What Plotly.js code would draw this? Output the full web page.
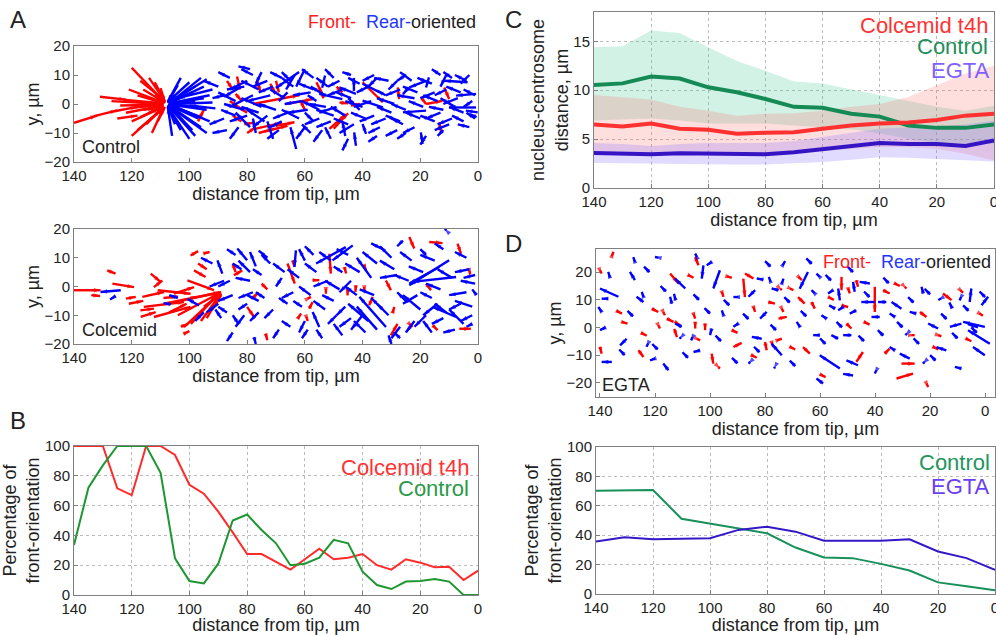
<!DOCTYPE html>
<html><head><meta charset="utf-8">
<script src="https://cdn.plot.ly/plotly-3.0.1.min.js"></script>
<style>html,body{margin:0;padding:0;background:#fff}#plot{width:996px;height:635px}</style>
</head><body><div id="plot"></div>
<script>
// ---------- DATA ----------
// Quiver arrows: [xTail, yTail, xHead, yHead] (distance from tip, µm ; y, µm)
const controlFront = [
[140,-6.5,132,-4],[133,-4.2,125,-2.2],[126,-2.5,118,-1],[119,-1.2,109,-0.3],[131,2.5,122,1.5],[123,1.5,109,0.2],
[120,12.5,109,1],[117,8,109,1.5],[114,9,108.5,1],[112,7.5,108.5,0.8],[116,5,109,0.8],[121,5,109,0.5],[118,3,109,0.3],
[127,1,109,0],[124,-0.5,109,-0.2],[122,-3,109,-0.5],[117,-4.5,109,-0.8],[120,-6,109,-1],[115,-7,109,-1],[118,-9,109,-1.5],
[120,-11,110,-2],[113,-10,109,-1.5],[111,-6,108.5,-1],[114,-3,109,-0.5],[112,3,108.5,0.3],[110,5.5,108.5,0.5],[125,-5,118,-4],[116,-2,112,-1.5],
[97,-6,95,-2],[83.5,9.5,82.5,5],[84,3.5,82,1.2],[86,1,83,-1],[85,-4,82,-6],[83,-1,80,-3],[81,-7,78,-6.5],[76.5,8,75.3,4],[72,7,70.2,3.5],
[76,-10,70.5,-8.5],[70,8,69,4],[78,0,62,3],[77,-8.5,68,-6.5],[74,-9.5,66,-7.5],[61.5,1,60,-2],[55,5,53.5,2],[56,7.5,54,3.5],[70,-7.5,63.6,-6.3],
[66.5,0,57.3,1.7],[51.5,-8.6,45.8,-3.5],[48,0.5,45,0.2],[44,-0.5,41,0],[40,7.5,33,0.6],[27.8,5.7,27.3,1.7],[18,0,12.3,1.1],[13.4,-6.3,12.8,-9.8],
[11.7,5.7,10,1.7],[49,6,47,4],[50,-8.5,45,-3.2],[19.5,2,18,0],[87,8,85,5],[80,-10,77,-8]
];
const controlRear = [
[94,8.5,107,0.5],[95,6,107,0.4],[93,3,107,0.2],[92,0.5,107,0],[94,-2,107,-0.2],[96,-4.5,107,-0.4],[94,-10,107,-0.8],[100,-12,107.5,-1],
[103,-9,107.5,-0.8],[105,-7,107.5,-0.6],[101,-3,107.5,-0.3],[104,6.5,107.5,0.6],[103,9,107.5,0.8],[98,1,107,0.1],[97,-1,107,-0.1],[99,4,107,0.3],
[102,-6,107.5,-0.5],[96,-8,107,-0.6],[105,3,107.5,0.3],[100,7.5,107.5,0.7],[106,-11,107.5,-1],[91,-1.5,100,-0.5],[97,-5,107,-0.4],[99,-9,107,-0.7],
[95,2,107,0.2],[93,-6,106,-0.5],[98,6,107,0.5],[92,5,104,2],[96,9,106,1],[98,-11,107,-1],
[88,3,92,2],[82,6,88,2.5],[80,8,86,5],[78,3,86,-1],[81,-2,88,0],[79,-8,84,-3],[77,-10,78,-5],[74,-6,80,-2],[72,3,80,1],[73,8,78,6],[75,11,77,7],
[81,6,87,5],[84,-4,89,-2],[76,-3,82,-1],[70,-2,76,0],[71,-12,73,-6],[62,11,70,5.5],[63,-15.5,65,-8],[63.5,10,66.5,5],[60,12,63,6],[53,9.8,54,5.6],
[47,1.7,55,3.5],[52.7,-1,58.5,0],[42.3,3.5,48,5.7],[43,4.5,43,9],[46,-11,47,-6],[42.3,-14.4,42.9,-9.8],[38.8,-10.3,40,-6.9],[33,-1.2,40,1.2],
[32,3,35,4.6],[24,5.7,26,3.4],[18,-2.3,26,-2.9],[18,8,23.8,5.7],[19.2,-13.8,19.8,-9.8],[17,9.2,18,5.7],[3.6,7.5,11.7,8],[0.7,3.5,7.6,2.9],
[0.7,-1.2,10,-1.2],[0.1,-2.9,4.2,-2.3],[0.5,-4.5,3,-3.5],[66,4,69,1],[59,-2,66,-3],[57,5,62,7],[55,-5,60,-7],[58,-10,61,-7],[50,-4,56,-2],
[48,8,52,6],[45,-7,50,-5],[41,-2,45,2],[38,6,42,4],[36,-4,41,-6],[35,9,38,6],[30,-3,35,-1],[28,8,31,5],[26,-7,30,-5],[22,2,28,3],[20,-5,25,-3],
[15,4,20,2],[13,-3,18,-5],[11,10,13,6],[9,-5,14,-7],[7,2,12,0],[5,-6,9,-4],[3,10,6,7],[2,1,5,-1],[12,-9,14,-11],[28,-9,32,-11],[51,-12,53,-8],
[68,-6,72,-8],[65,8,68,11],[56,1,59,3],[44,10,47,11],[25,10,28,8],[52,6,56,9],
[90,6,95,8],[88,-5,93,-7],[86,9,90,11],[84,1,90,4],[83,-8,86,-12],[80,-4,86,-6],[78,10,82,12],[76,5,82,8],[75,-1,82,2],[73,-4,78,-8],[71,6,76,4],
[69,-9,73,-12],[67,2,72,5],[66,-3,71,-5],[64,6,68,9],[62,-5,68,-2],[61,1,67,0],[60,-8,63,-12],[58,4,64,3],[57,9,61,12],[55,-2,61,1],[54,-9,57,-13],
[53,3,58,6],[51,-6,56,-8],[50,9,53,12],[49,-1,55,-3],[47,5,52,3],[46,-4,51,-1],[45,-12,47,-16],[44,2,49,4],[43,-7,48,-10],[41,7,45,9],[40,-1,46,1],
[39,-5,44,-3],[37,1,43,-1],[36,10,40,8],[34,-8,38,-10],[34,4,40,7],[32,-5,37,-7],[31,8,36,9],[29,0,35,2],[27,-6,32,-4],[27,5,32,3],[25,-2,30,0],
[23,8,27,11],[22,-8,26,-10],[21,4,26,6],[19,-1,24,1],[18,-11,20,-14],[16,7,21,9],[15,-6,20,-4],[14,1,19,3],[12,-2,17,-1],[11,5,15,3],[10,-7,15,-9],
[9,9,12,11],[8,-1,13,2],[6,4,11,6],[5,-3,10,-1],[4,8,8,10],[3,-8,7,-7],[1,3,5,5],[1,-5,4,-3],[13,10,16,12],[35,-11,38,-13],[57,-6,60,-3],
[68,9,72,11],[87,-9,92,-10],[79,12,83,13],[25,-10,28,-12]
];
const colcemidFront = [
[140,-1.3,130.8,-1.3],[134,-3,131,-3.3],[128.5,5.6,125.6,4.5],[126.7,1,119.2,-0.2],[122,-4.2,118.6,-3.6],[117,-8.3,112.3,-7.7],[116.9,-10.6,111.7,-8.9],
[116.3,-3.6,108.8,-1.9],[113.4,4.5,110,1.6],[112.3,-0.2,109.4,2.1],[111,-1.3,99.6,-2.5],[108.8,-6,97.3,-3.6],[115.8,-7.1,101.9,-5.4],[112.3,-10.6,99.6,-7.1],
[105.4,-2.5,98.4,-0.2],[100.7,2.1,91.5,-1.3],[98.4,5.6,94.4,3.3],[99.6,10.8,97,12.3],[95,11.5,93,12],[97,8,94,6],[101.9,-14.1,90,-3],[99.5,-13,90.5,-3],
[96,-12,89.5,-3],[94,-11,89,-2.5],[104,-10,90,-2.5],[103,-5,89.5,-2],[99,-4,89,-2],[95,-7,89,-2.5],[92,-8,89,-3],[103,-14,100.5,-13],[102,-16.5,100,-15.5],
[84.6,3.9,81.7,5.6],[85,8,84,5],[80,-7.1,77.6,-10.6],[73.6,-16.4,73,-18.7],[78,-4,76,-2],[75,1,73,-1],[66,8,63.5,1],[64.2,9.1,63.6,6.8],[51.5,11.4,51,4.5],
[57.3,2.2,55,2.2],[59,-4.2,57.9,-3.6],[58.5,-7.7,57.3,-5.4],[52.7,-0.8,52.7,-2.5],[45.2,-0.2,45.2,-3.1],[42.3,0.4,42.5,-1.9],[39.4,-0.2,39.4,-1.9],
[37.7,-6.5,36.5,-3.6],[31.9,2.1,30.2,-1.3],[62.5,-11.2,61.3,-9.4],[59.5,-10.5,59,-12],[30.2,-17,27.9,-13],[29.6,-9.2,29,-7.1],[23.8,-13,22.7,-14.1],
[15.7,-13.5,14,-15.2],[6.5,-14.7,2.5,-14.7],[23.8,17.2,22.1,13.2],[16.9,15.5,12.3,15.1],[7.1,14.9,5.9,11.4],[3,5.6,2.7,4.2],[18,1,16.3,-1.3],
[46.3,6.8,45.7,4.5],[39.4,7.4,38.8,5.6],[121,-6,116,-5],[109,-4,104,-3.5],[107,-9,101,-6]
];
const colcemidRear = [
[123.8,-1.3,130.8,-1.9],[125.6,-3.3,127.5,-4.5],[106.5,-6.2,109,-5.8],[96.7,-6.6,100.7,-4.3],[104,-4,107,-3],[88.6,4.5,90.3,9.1],[86,2,90,0],
[85,-3,90,-5],[87,-9,90,-7],[89,-11,91,-8],[83,-13,85,-10],[80,9.1,83.4,13.2],[77,7,79,12],[82,6,85,8],[79,2,84,3],[78,-2,83,-4],[80,-6,83,-8],
[76,-9,79,-12],[77.6,-17.6,77,-20],[75,4,78,6],[74,-4,77,-2],[73,10,76,12.5],[45.8,13.7,56.1,8],[43.4,14.3,50.4,9.1],[63.1,12.6,63.6,6.8],
[60,9,62,13],[56,5,60,8],[58,-3,62,0],[61,-7,64,-5],[55,-14.1,57.3,-8.9],[60,-12,62,-16],[66,-6,69,-4],[68,3,70,0],[65,-14,68,-12],[52,2,57,0],
[50,-5,54,-3],[49,-10,52,-13],[47,5,50,7],[10,9.1,23.8,0.4],[13.4,6.8,23.8,1],[7.6,3.3,22.7,1.6],[31.9,-14.1,41.1,-3.6],[35,-15,42,-7],
[38,-12,45,-6],[40,-10,44,-15],[33,-8,37,-4],[37,3,42,10],[35,8,40,12],[30,10,34,14],[28,4,34,3],[44,2,48,-2],[42,-3,46,0],[25,-5,28,-2],
[20,-8,26,-3],[22,-12,25,-16],[18,-10,22,-14],[16,-4,20,-2],[14,-6,19,-10],[12,-11,16,-13],[7.6,-10.6,15.7,-7.1],[5,-13,10,-8],[2,-7,8,-5],
[4,-2,10,-3],[1,1,6,2],[3,6,8,5],[12,13,15,15],[18,11,20,13],[26,16,28,14],[8,-15,12,-16],[2,-13,4,-14],[0.5,-3,2,-1],[27,-18,29,-16],
[30,-20,31,-17],[47,-17,50,-13],[54,-18,56,-15],[44,-11,48,-14],[11,19.5,11.5,20],
[92,8,96,10],[90,-6,94,-9],[88,2,93,0],[84,11,87,13],[81,-10,84,-14],[79,5,83,9],[76,-5,80,-3],[72,8,75,11],[71,-8,74,-11],[69,-15,71,-18],
[67,5,71,8],[64,-2,68,-4],[62,3,66,6],[59,-15,61,-18],[57,11,60,14],[53,-8,57,-5],[51,9,55,12],[48,-1,53,2],[46,-7,49,-10],[45,11,49,13],
[41,5,46,8],[39,-16,43,-12],[36,-3,41,-1],[33,13,37,15],[31,-10,35,-6],[29,6,34,9],[27,-14,30,-18],[24,2,29,4],[23,9,27,12],[21,-3,26,-6],
[19,5,24,7],[16,-16,19,-12],[15,9,20,11],[13,-1,18,1],[11,-9,15,-6],[9,3,14,6],[6,-6,10,-8],[4,10,8,12],[2,-10,6,-12],[1,4,5,3],[85,-16,87,-19],[95,-9,98,-12]
];
const egtaFront = [
[135.7,25.8,135.1,27.4],[105.4,25.5,104.2,22.5],[114.5,19.5,111.5,15.9],[140,20.7,139.4,19.5],[121.2,6.8,118.8,5.6],[117,5.6,116.4,4.4],
[132.1,2,130,1.4],[115.7,3.2,113.3,2],[112.7,2,110.9,0.8],[118.8,0.8,118.2,-0.4],[113,-0.5,112,-3.5],[106,5,105.4,3.2],[105.4,2,105.4,-0.4],
[101.8,1.4,101.8,-1],[104.8,-4.1,103.6,-4.7],[140,-7,139.4,-9.5],[126,-8.3,124.2,-10.7],[99.4,-9.5,98.8,-13.1],[97,-14.3,96.4,-14.9],
[95.7,12.9,95.1,11.1],[93.9,18.5,92.1,18],[87.9,17.7,87.3,11],[87.3,19.5,84.2,17.7],[74.5,14.1,73.9,13.5],[84.2,7.4,83.6,5.6],[78.8,9.2,76.4,8.6],
[75.1,3.2,72.1,3.8],[73.9,6.8,73.3,5.6],[80,-5.3,79.4,-8.3],[77.6,-5.3,77,-7.1],[75.7,-4.7,73.9,-4.1],[91.5,-7.1,88.5,-5.6],[70.9,14.1,69.7,13.5],
[67.8,18.3,66.6,17.1],[63.1,9.2,61.9,6.8],[52.2,18.3,52.2,13.5],[49.8,14.1,49.2,12.3],[46.8,17.1,46.2,14.7],[40.1,14.7,40.1,5.6],[37.1,13.5,34.7,12.3],
[29.2,14.7,28.6,14.1],[15.3,12.3,12.2,9.9],[52.2,8,49.8,7.4],[23.7,5.6,21.3,3.8],[17.1,-2.8,15.9,-3.2],[26.8,-2.8,25.6,-2.8],[66.2,-7.1,63.7,-9.5],
[46.8,-12.5,44.4,-8.9],[36.5,-9.5,34.7,-7.7],[30.4,-13.1,25.6,-13.1],[32.2,-18.5,26.2,-16.7],[21.3,-20.3,20.7,-21.6],[50.4,1.4,48.6,-0.4],
[68,11,65.6,8.6],[2,5,0.8,4.2],[9,13.5,8,12.5],
[134,6,132,5],[125,-2,123,-3],[108,19,106,18],[92,-1,90,-2],[85,-10,83,-11],[71,-7,69,-8],[57,11,55,10],[44,2,42,1],[33,16,31,15],[19,-7,17,-8],
[7,-4,5,-5],[60,-17,58,-18]
];
const egtaRear = [
[127.3,23.7,127.9,25.5],[118.8,25.3,120,25.5],[104.8,25.5,105.4,26.8],[99.4,23.7,101.2,22.5],[102.4,22.5,103,17.7],[96.4,20.7,98.8,14.1],
[136.4,18.1,137,20.1],[127.3,17.1,129.1,20.1],[109,14.1,112.7,17.7],[133.3,11.1,140,14.1],[137,10.4,139.4,10.4],[124.2,9.2,126.7,11.1],
[124.2,11.1,124.8,12.9],[113.9,8.6,114.5,11.1],[112.5,9.8,113.1,12.2],[110.3,0.2,112.7,1.4],[99.4,-0.4,100,-2.8],[110.5,-3.5,111.1,-4.1],
[106.3,-3.5,106.9,-4.7],[139.4,5.6,140.6,7.4],[135.7,-12.5,139.4,-12.5],[130.3,-4.1,132.7,-6.5],[122.5,-5.8,123.1,-7],[120,-11.3,121.8,-11.9],
[115.1,-15.5,117,-13.1],[103.6,-8.3,106,-8.9],[95.1,4.4,95.7,6.2],[89.7,1.4,91.5,0.2],[89.7,11,91.5,11],[83.6,13.5,86,11.1],[80.6,17.3,83,17.7],
[78,16.5,78.6,18.3],[73.9,15.9,73.3,17.7],[73.6,22.5,72.7,24],[75.1,13.5,77.6,14.1],[79.4,5.6,81.8,3.2],[81.2,-4.1,84.8,-3.4],[73.9,-10.1,77.6,-5.9],
[85.4,-12.5,86,-13.1],[76.4,-14.3,76.7,-14.9],[67.3,0.2,68.5,2],[64.4,20.1,67.4,14],[60.1,18.3,61.3,19.5],[61.9,12.3,63.1,13.5],[57.7,3.2,59.5,4.4],
[55.3,13.5,57.1,12.3],[52.8,9.8,53.4,14.1],[47.4,12.9,48,16.5],[41.9,15.9,45.6,16.5],[40.1,9.2,45,9.2],[35.9,9.2,38.9,9.2],[30.4,6.8,34,9.2],
[22.5,12.3,23.1,14.7],[5.6,9.2,5,14.1],[1.3,8,-1.1,11.1],[51.6,7.4,53.4,6.2],[54.5,6.8,56.7,8],[46.8,6.2,49.2,5],[38.3,3.8,41.3,3.8],
[32.8,3.8,34.7,5],[25,5,27.4,5.6],[17.1,-0.4,20.7,1.4],[8.6,1.4,12.8,0.2],[0.1,0.2,8,2],[-1.7,-5.9,6.2,-1],[28.4,-2.2,29,-2.8],
[60.1,-2.8,62.5,-2.8],[53.4,-4.1,55.9,-2.8],[48.6,-2.8,51.6,-2.8],[52.8,-14.9,60.1,-10.1],[48,-17.4,51.6,-16.8],[46.2,-13.7,50.4,-11.9],
[39.5,-15.5,40.1,-16.7],[32.8,-8.3,34.7,-7.1],[27.4,-11.3,31,-9.5],[22,-12.5,22.6,-13.1],[14.1,-8.3,17.7,-7.1],[8.6,-14.9,11,-14.3],
[0.1,-10.1,4.4,-7.1],[58.9,-20.3,61.3,-18.5],[16,10.5,17,9.9],[8.7,11,9.3,9.8],[12,7,13,9],[2.6,0,6.2,1.2],
[138,0,140,-1],[131,-10,133,-8],[128,4,130,6],[122,20,124,22],[119,-8,121,-6],[116,13,118,15],[108,-11,110,-9],[104,10,106,12],[100,5,102,7],
[96,-5,98,-3],[93,8,95,10],[90,-13,92,-11],[86,3,88,5],[82,-9,84,-7],[78,22,80,24],[76,-1,78,1],[71,9,73,11],[69,-14,71,-12],[65,4,67,6],
[63,23,65,25],[58,-6,60,-4],[56,17,58,19],[52,0,54,2],[48,20,50,22],[44,-5,46,-3],[42,11,44,13],[37,-3,39,-1],[35,16,37,18],[30,0,32,2],
[26,9,28,11],[24,-6,26,-4],[20,12,22,14],[18,-12,20,-10],[14,3,16,5],[10,-4,12,-2],[6,6,8,8],[3,-2,5,0],[0,11,2,13]
];

// Panel B: percentage of front-orientation
const distB = [140,135,130,125,120,115,110,105,100,95,90,85,80,75,70,65,60,55,50,45,40,35,30,25,20,15,10,5,0];
const colcemidPctB = [100,100,100,71.6,67,100,100,94,74,68,56,42,27.5,27.5,22,17,24,31,24,25,27.5,20,17,24,21.7,18.6,19,10,16.3];
const controlPctB = [33.6,72,87,100,100,100,82,24.6,9.4,7.8,21,50,54,43.6,34.7,20,21,25,37,34.7,15.6,6.7,4,9,9.4,10.7,9,0,0];

// Panel C: nucleus-centrosome distance
const distC = [140,130,120,110,100,90,80,70,60,50,40,30,20,10,0];
const colcemidMean = [6.5,6.3,6.6,6.05,5.95,5.55,5.65,5.7,6.05,6.4,6.6,6.7,6.95,7.4,7.6];
const colcemidHi = [9.5,9.3,9.05,8.3,7.9,7.4,7.6,7.65,7.9,8.3,8.6,9.3,10.5,11.7,12.5];
const colcemidLo = [3.6,3.6,3.5,3.5,3.5,3.5,3.5,3.6,3.8,4.0,4.2,4.2,4.0,3.5,2.8];
const controlMean = [10.54,10.7,11.4,11.2,10.3,9.8,9.1,8.3,8.2,7.6,7.3,6.4,6.15,6.15,6.5];
const controlHi = [14.4,14.5,16.1,15.85,14.4,13,12,10.9,10.7,10.1,9.5,8.9,8.3,7.9,8.4];
const controlLo = [6.9,7.0,7.1,6.9,6.6,6.6,6.6,6.4,6.2,6.0,5.6,5.0,4.6,4.5,4.5];
const egtaMean = [3.57,3.55,3.45,3.55,3.55,3.55,3.45,3.65,4.0,4.3,4.6,4.5,4.5,4.3,4.85];
const egtaHi = [4.6,4.5,4.3,4.5,4.6,4.6,4.6,4.8,5.2,5.6,6.05,6.2,6.3,6.5,6.9];
const egtaLo = [2.55,2.55,2.5,2.45,2.4,2.4,2.4,2.5,2.65,2.9,3.15,3.1,3.0,2.85,2.7];

// Panel D (bottom): percentage of front-orientation
const distD = [140,130,120,110,100,90,80,70,60,50,40,30,20,10,0];
const controlPctD = [70.2,70.2,70.7,51.2,48,44.7,41.3,31.6,24.8,24.4,20.5,16,7.9,5.2,2.5];
const egtaPctD = [35.7,38.6,37.2,37.5,37.9,43.6,45.8,42.4,36.3,36.3,36.3,37.2,28.9,24.4,16.5];

const distTicks = [140,120,100,80,60,40,20,0];

// ---------- STYLE ----------
const W = 996, H = 635;
const FONT = 'Liberation Sans, Arial, Helvetica, sans-serif';
const RED = '#ff0000', BLUE = '#0000ff';
function dx(a,b){return [a/W,b/W];}
function dy(top,bot){return [1-bot/H,1-top/H];}

function quiver(arrows,color,xa,ya){
  const x=[],y=[],s=[];
  arrows.forEach(a=>{x.push(a[0],a[2],null);y.push(a[1],a[3],null);s.push(0,7,0);});
  return {type:'scatter',mode:'lines+markers',x,y,xaxis:xa,yaxis:ya,
    line:{color,width:2.4,backoff:0},marker:{symbol:'arrow',size:s,angleref:'previous',standoff:-2,color,line:{width:0,color}},
    hoverinfo:'skip',showlegend:false};
}
function line(x,y,color,width,xa,ya){
  return {type:'scatter',mode:'lines',x,y,xaxis:xa,yaxis:ya,line:{color,width},hoverinfo:'skip',showlegend:false};
}
function band(x,lo,hi,fill,xa,ya){
  return [
    {type:'scatter',mode:'lines',x,y:lo,xaxis:xa,yaxis:ya,line:{width:0,color:fill},hoverinfo:'skip',showlegend:false},
    {type:'scatter',mode:'lines',x,y:hi,xaxis:xa,yaxis:ya,line:{width:0,color:fill},fill:'tonexty',fillcolor:fill,hoverinfo:'skip',showlegend:false}
  ];
}

const traces = [
  quiver(controlFront,RED,'x','y'), quiver(controlRear,BLUE,'x','y'),
  quiver(colcemidFront,RED,'x2','y2'), quiver(colcemidRear,BLUE,'x2','y2'),
  line(distB,colcemidPctB,'#ff2a2a',2,'x3','y3'), line(distB,controlPctB,'#1e9632',2,'x3','y3'),
  ...band(distC,controlLo,controlHi,'rgba(70,200,150,0.24)','x4','y4'),
  ...band(distC,colcemidLo,colcemidHi,'rgba(255,90,90,0.20)','x4','y4'),
  ...band(distC,egtaLo,egtaHi,'rgba(130,110,255,0.25)','x4','y4'),
  line(distC,controlMean,'#158a55',4,'x4','y4'),
  line(distC,colcemidMean,'#ff3030',4,'x4','y4'),
  line(distC,egtaMean,'#3614c4',4,'x4','y4'),
  quiver(egtaFront,RED,'x5','y5'), quiver(egtaRear,BLUE,'x5','y5'),
  line(distD,controlPctD,'#17905a',2,'x6','y6'), line(distD,egtaPctD,'#3418c8',2,'x6','y6')
];

const baseAx = {showline:true,mirror:true,linecolor:'#808080',linewidth:1,ticks:'inside',ticklen:4,tickcolor:'#808080',
  tickfont:{family:FONT,size:15,color:'#222'},zeroline:false,showgrid:false,fixedrange:true,ticklabeloverflow:'allow'};
const gridOn = {showgrid:true,gridcolor:'#bbbbbb',griddash:'dot',gridwidth:1};
const xTitle = {text:'distance from tip, µm',font:{family:FONT,size:18,color:'#222'},standoff:2};
function xax(domain,range,anchor,extra){return Object.assign({},baseAx,{domain,range,anchor,tickvals:distTicks,title:xTitle},extra||{});}
function yax(domain,range,anchor,tickvals,title,extra){return Object.assign({},baseAx,{domain,range,anchor,tickvals,
  title:{text:title,font:{family:FONT,size:18,color:'#222'},standoff:0}},extra||{});}

function ann(text,px,py,size,color,xanchor){
  return {text,x:px/W,y:1-py/H,xref:'paper',yref:'paper',showarrow:false,xanchor:xanchor||'left',yanchor:'middle',
    font:{family:FONT,size,color:color||'#222'}};
}
const frontRear = '<span style="color:#ff2020">Front-</span>\u00a0\u00a0<span style="color:#1f36ff">Rear-</span>oriented';

const layout = {
  width:W,height:H,margin:{l:0,r:0,t:0,b:0},paper_bgcolor:'#fff',plot_bgcolor:'#fff',showlegend:false,
  font:{family:FONT,color:'#222'},
  xaxis: xax(dx(74,478),[140,0],'y'),
  yaxis: yax(dy(46,162),[-20,20],'x',[-20,-10,0,10,20],'y, µm'),
  xaxis2: xax(dx(74,478),[140,0],'y2'),
  yaxis2: yax(dy(229,344),[-20,20],'x2',[-20,-10,0,10,20],'y, µm'),
  xaxis3: xax(dx(74,478),[140,0],'y3',gridOn),
  yaxis3: yax(dy(446,595),[0,100],'x3',[0,20,40,60,80,100],'Percentage of<br>front-orientation',gridOn),
  xaxis4: xax(dx(594,994),[140,0],'y4',gridOn),
  yaxis4: yax(dy(12,188),[0,18],'x4',[0,5,10,15],'nucleus-centrosome<br>distance, µm',gridOn),
  xaxis5: xax(dx(596,995),[141.45,-3.6],'y5'),
  yaxis5: yax(dy(249,397),[-25.2,28.4],'x5',[-20,-10,0,10,20],'y, µm'),
  xaxis6: xax(dx(596,995),[140,0],'y6',gridOn),
  yaxis6: yax(dy(447,594),[0,100],'x6',[0,20,40,60,80,100],'Percentage of<br>front-orientation',gridOn),
  annotations:[
    ann('A',8,20,24), ann('B',8,420,24), ann('C',503,20,24), ann('D',503,243,24),
    ann(frontRear,478,22,18,'#222','right'),
    ann('Control',80,147,18), ann('Colcemid',80,330,18), ann('EGTA',600,385,18),
    ann(frontRear,993,262,18,'#222','right'),
    ann('Colcemid t4h',471,467,22,'#ff3333','right'), ann('Control',471,488,22,'#2a9a48','right'),
    ann('Colcemid t4h',990,25,22,'#ff3333','right'), ann('Control',990,46,22,'#1f8f5a','right'), ann('EGTA',992,70,22,'#8060ff','right'),
    ann('Control',992,462,22,'#24955e','right'), ann('EGTA',992,486,22,'#6a40f0','right')
  ]
};
Plotly.newPlot('plot',traces,layout,{staticPlot:true,displayModeBar:false});
</script></body></html>
